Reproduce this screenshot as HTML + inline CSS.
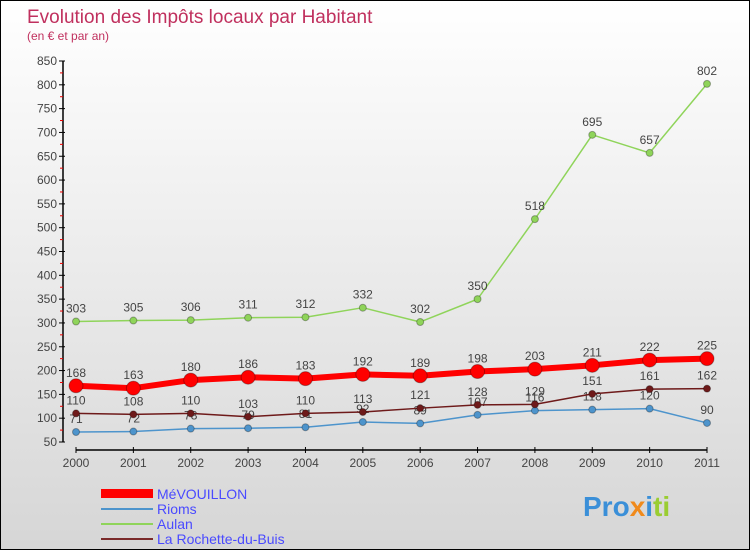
<!DOCTYPE html>
<html><head><meta charset="utf-8"><style>
body{margin:0}
#c{width:750px;height:550px;position:relative;box-sizing:border-box;border:1px solid #000;background:linear-gradient(#ffffff,#d6d6d6);font-family:"Liberation Sans",sans-serif;overflow:hidden}
</style></head><body>
<div id="c">
<svg id="s" width="750" height="550" style="position:absolute;left:0;top:0">
<text x="26" y="22" font-size="19" fill="#c0305e">Evolution des Impôts locaux par Habitant</text>
<text x="26" y="39" font-size="12" fill="#c0305e">(en € et par an)</text>
<g id="axes"></g><g id="series"></g>
<g id="legend" font-size="14">
<rect x="100" y="488" width="52" height="9" fill="#ff0000"/>
<text x="156" y="498" fill="#4a4aff">MéVOUILLON</text>
<line x1="100" y1="508" x2="152" y2="508" stroke="#4d94cc" stroke-width="2"/>
<text x="156" y="513" fill="#4a4aff">Rioms</text>
<line x1="100" y1="523" x2="152" y2="523" stroke="#8fd45a" stroke-width="2"/>
<text x="156" y="528" fill="#4a4aff">Aulan</text>
<line x1="100" y1="538" x2="152" y2="538" stroke="#7a2a2a" stroke-width="2"/>
<text x="156" y="543" fill="#4a4aff">La Rochette-du-Buis</text>
</g>
<text x="582" y="515" font-size="28" font-weight="bold"><tspan fill="#3a8fd8">Pro</tspan><tspan fill="#f08a1c">x</tspan><tspan fill="#3a8fd8">i</tspan><tspan fill="#9acd32">ti</tspan></text>
</svg>
</div>
<script>
const years=["2000","2001","2002","2003","2004","2005","2006","2007","2008","2009","2010","2011"];
const mevouillon=[168,163,180,186,183,192,189,198,203,211,222,225];
const rioms=[71,72,78,79,81,92,89,107,116,118,120,90];
const aulan=[303,305,306,311,312,332,302,350,518,695,657,802];
const rochette=[110,108,110,103,110,113,121,128,129,151,161,162];
const yTicks=[50,100,150,200,250,300,350,400,450,500,550,600,650,700,750,800,850];
const NS="http://www.w3.org/2000/svg";
const x=i=>75+i*(631/(years.length-1));
const y=v=>441-(v-50)*(381/800);
function mk(t,a,p){const e=document.createElementNS(NS,t);for(const k in a)e.setAttribute(k,a[k]);p.appendChild(e);return e;}
const ax=document.getElementById('axes');
let l=mk('line',{x1:62,y1:y(850),x2:62,y2:y(50),stroke:'#000','stroke-width':1.5},ax);


yTicks.forEach((v,k)=>{
 let t=mk('line',{x1:58,y1:y(v),x2:64,y2:y(v),stroke:'#000'},ax);
 
 
 if(k<yTicks.length-1){
 let m=mk('line',{x1:59,y1:y(v+25),x2:62,y2:y(v+25),stroke:'#e00'},ax);
 
 
 }
 let tx=mk('text',{x:56,y:y(v)+4,'text-anchor':'end','font-size':12,fill:'#444'},ax);tx.textContent=v;
 
 
});
let xa=mk('line',{x1:75,y1:449,x2:706,y2:449,stroke:'#000','stroke-width':1.5},ax);


years.forEach((yr,i)=>{
 let t=mk('line',{x1:x(i),y1:446,x2:x(i),y2:452,stroke:'#000'},ax);
 
 
 let tx=mk('text',{x:x(i),y:466,'text-anchor':'middle','font-size':12,fill:'#444'},ax);tx.textContent=yr;
 
 
});
const sg=document.getElementById('series');
function series(name,data,color,w,r,labels){
 const g=mk('g',{},sg);
 
 
 const pl=mk('polyline',{points:data.map((v,i)=>x(i)+','+y(v)).join(' '),fill:'none',stroke:color,'stroke-width':w,'stroke-linejoin':'round'},g);
 
 
 data.forEach((v,i)=>{
  const c=mk('circle',{cx:x(i),cy:y(v),r:r,fill:color,stroke:'rgba(0,0,0,0.3)'},g);
  
  
  if(labels){const t=mk('text',{x:x(i),y:y(v)-9,'text-anchor':'middle','font-size':12,fill:'#444'},g);t.textContent=v;
  
  }
 });
}
series('rioms',rioms,'#4d94cc',1.5,3.5,true);
series('rochette',rochette,'#6e1a1a',1.5,3.5,true);
series('aulan',aulan,'#8fd45a',1.5,3.5,true);
series('mevouillon',mevouillon,'#ff0000',6,7,true);
</script>
</body></html>
